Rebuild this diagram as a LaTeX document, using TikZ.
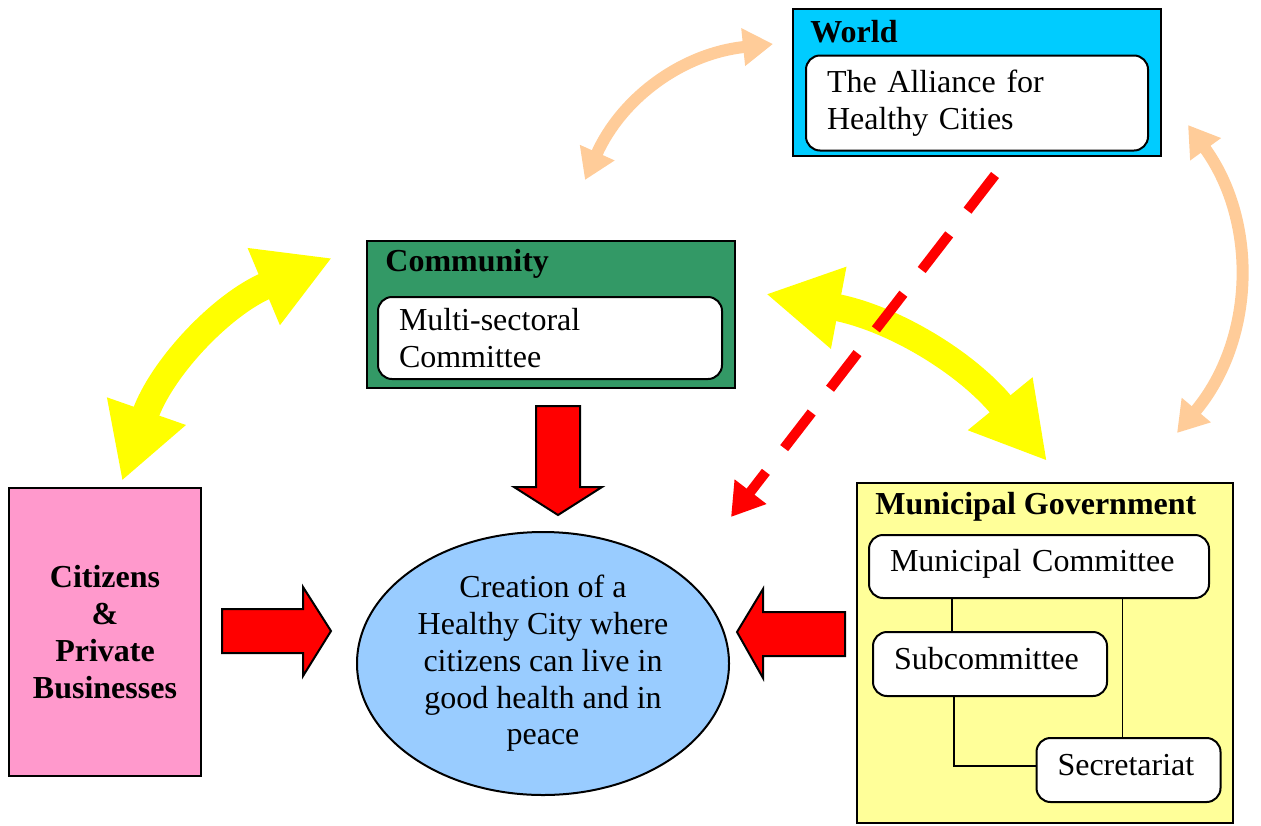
\documentclass[tikz,border=0pt]{standalone}
\usepackage{fontspec}
\setmainfont{Liberation Serif}
\usepackage{xcolor}
\usepackage{tikz}
\usetikzlibrary{arrows.meta,positioning,shapes.geometric,calc}
\definecolor{worldblue}{HTML}{00CCFF}
\definecolor{commgreen}{HTML}{339966}
\definecolor{govyellow}{HTML}{FFFF99}
\definecolor{citpink}{HTML}{FF99CC}
\definecolor{cityblue}{HTML}{99CCFF}
\definecolor{peach}{HTML}{FFCC99}
\definecolor{brightyellow}{HTML}{FFFF00}

\begin{document}
\begin{tikzpicture}[
  x=0.5pt, y=-0.5pt,
  font=\fontsize{16}{18.4}\selectfont,
  panel/.style={draw, rectangle, line width=1pt},
  inbox/.style={draw, fill=white, rectangle, rounded corners=7pt, align=left, inner xsep=10.5pt, line width=1pt},
  govbox/.style={inbox, text height=11pt, text depth=6pt},
  title/.style={font=\fontsize{16}{18.4}\selectfont\bfseries, inner sep=0pt, anchor=west},
  link/.style={line width=0.8pt},
  blockarrow/.style={draw, fill=red, line width=1pt, line join=miter},
  bigarr/.style={brightyellow, line width=13.5pt, {Triangle[length=37pt,width=39pt]}-{Triangle[length=37pt,width=39pt]}},
  thinarr/.style={peach, line width=6pt, {Triangle[length=15pt,width=18pt]}-{Triangle[length=15pt,width=18pt]}},
]
\useasboundingbox (0,0) rectangle (1261,825);

% boxes
\node[panel, fill=worldblue, minimum width=184pt, minimum height=73.5pt] (world) at (977,82.5) {};
\node[title] (worldlbl) at (810,32) {World};
\node[inbox, minimum width=171pt, minimum height=47.5pt, text width=150pt] (alliance) at (977,103) {The Alliance for\\Healthy Cities};

\node[panel, fill=commgreen, minimum width=184pt, minimum height=73.5pt] (comm) at (551,314.5) {};
\node[title] (commlbl) at (385,264) {Community};
\node[inbox, minimum width=172pt, minimum height=41pt, text width=151pt] (multi) at (550,338) {Multi-sectoral\\Committee};

\node[panel, fill=govyellow, minimum width=188pt, minimum height=170pt] (gov) at (1045,653) {};
\node[title] (govlbl) at (875,507) {Municipal Government};
\node[govbox, minimum width=170pt, minimum height=31.5pt, text width=149pt] (mcom) at (1039,566.5) {Municipal Committee};
\node[govbox, minimum width=117pt, minimum height=32pt, text width=96pt] (subc) at (990,664) {Subcommittee};
\node[govbox, minimum width=91.5pt, minimum height=32pt, text width=71pt] (secr) at (1128.5,770) {Secretariat};

\draw[link] ([xshift=40pt]subc.north west) -- ([xshift=40pt]subc.north west |- mcom.south);
\draw[link] ([xshift=-3pt]secr.north) -- ([xshift=-3pt]secr.north |- mcom.south);
\draw[link] ([xshift=41pt]subc.south west) |- ([yshift=2pt]secr.west);

\node[panel, fill=citpink, minimum width=96pt, minimum height=144pt, align=center, font=\fontsize{16}{18.4}\selectfont\bfseries] (citizens) at (105,632) {Citizens\\\&\\Private\\Businesses};

\node[draw, ellipse, fill=cityblue, line width=1pt, minimum width=186pt, minimum height=131.5pt, align=center, inner sep=0pt] (city) at (543,663.5) {Creation of a\\Healthy City where\\citizens can live in\\good health and in\\peace};

% block arrows into the city
\draw[blockarrow] (536,406) -- (580,406) -- (580,487) -- (602,487) -- (558,515) -- (514,487) -- (536,487) -- cycle;
\draw[blockarrow] (222,609) -- (303,609) -- (303,587) -- (331,631) -- (303,676) -- (303,653) -- (222,653) -- cycle;
\draw[blockarrow] (845,612) -- (763,612) -- (763,589) -- (737,632) -- (763,678) -- (763,656) -- (845,656) -- cycle;

% curved links
\coordinate (cit1) at (122,481);
\coordinate (com1) at (332,258);
\coordinate (com2) at (766,294);
\coordinate (gov1) at (1047,461);
\coordinate (com3) at (585,180);
\coordinate (wld1) at (773,44);
\coordinate (gov2) at (1177,433);
\coordinate (wld2) at (1188,125);
\coordinate (wld3) at (995,175);
\coordinate (cty1) at (731,517);

\draw[bigarr] (cit1) to[bend left=24] (com1);
\draw[bigarr] (com2) to[bend left=20] (gov1);
\draw[thinarr] (com3) to[bend left=30] (wld1);
\draw[thinarr] (gov2) to[bend right=38] (wld2);

\draw[red, line width=5pt, dash pattern=on 22.5pt off 15pt, -{Triangle[length=16pt,width=19pt]}] (wld3) -- (cty1);
\end{tikzpicture}
\end{document}
